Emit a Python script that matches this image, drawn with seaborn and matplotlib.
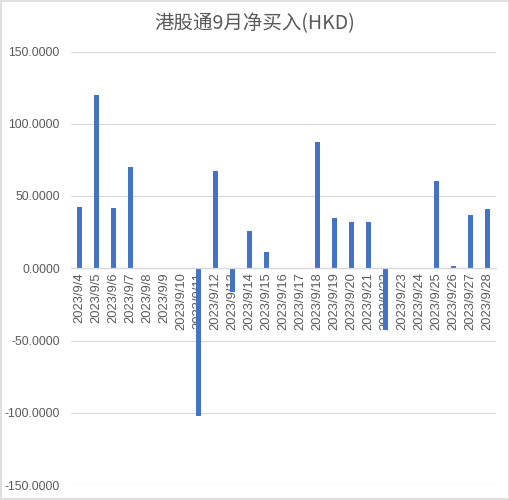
import matplotlib
matplotlib.use("Agg")
import matplotlib.pyplot as plt
import seaborn as sns
from matplotlib.ticker import FuncFormatter, MultipleLocator

# data
dates = ["2023/9/4", "2023/9/5", "2023/9/6", "2023/9/7", "2023/9/8", "2023/9/9",
         "2023/9/10", "2023/9/11", "2023/9/12", "2023/9/13", "2023/9/14", "2023/9/15",
         "2023/9/16", "2023/9/17", "2023/9/18", "2023/9/19", "2023/9/20", "2023/9/21",
         "2023/9/22", "2023/9/23", "2023/9/24", "2023/9/25", "2023/9/26", "2023/9/27",
         "2023/9/28"]
net_buy = [42.4, 119.9, 41.7, 70.1, 0, 0,
           0, -102.4, 67.3, -16.1, 25.8, 11.3,
           0, 0, 87.4, 34.8, 32.0, 32.0,
           -42.4, 0, 0, 60.4, 1.6, 36.9,
           41.0]
title = "港股通9月净买入(HKD)"

sns.set_style("white")
plt.rcParams["font.family"] = ["Liberation Sans", "Noto Sans CJK SC", "DejaVu Sans"]

grey_text = "#595959"
grid_col = "#d9d9d9"

fig = plt.figure(figsize=(5.1, 5.0), dpi=100)
ax = fig.add_axes([0.139, 0.03, 0.834, 0.867])

sns.barplot(x=dates, y=net_buy, color="#4472C4", saturation=1, width=0.32,
            linewidth=0, ax=ax)

ax.set_ylim(-150, 150)
ax.set_xlim(-0.5, len(dates) - 0.5)
ax.yaxis.set_major_locator(MultipleLocator(50))
ax.yaxis.set_major_formatter(FuncFormatter(lambda v, p: f"{v:.4f}"))
ax.grid(axis="y", color=grid_col, linewidth=0.9)
ax.set_axisbelow(True)

for s in ["top", "right", "left"]:
    ax.spines[s].set_visible(False)
ax.spines["bottom"].set_position(("data", 0))
ax.spines["bottom"].set_color(grid_col)
ax.spines["bottom"].set_linewidth(0.9)

ax.tick_params(axis="x", length=0, pad=3, labelsize=9.3, labelcolor=grey_text, rotation=90)
ax.tick_params(axis="y", length=0, pad=8, labelsize=8.8, labelcolor=grey_text)
for lbl in ax.get_xticklabels():
    lbl.set_va("top")
ax.set_xlabel("")
ax.set_ylabel("")

fig.text(0.5, 0.953, title, ha="center", va="center", fontsize=14, color=grey_text,
         family=["Noto Sans CJK SC", "DejaVu Sans"])

# light frame around the chart area like the original
fig.patches.append(plt.Rectangle((0.002, 0.002), 0.996, 0.996, transform=fig.transFigure,
                                 fill=False, edgecolor=grid_col, linewidth=1.2))

fig.savefig("out.png", dpi=100)
